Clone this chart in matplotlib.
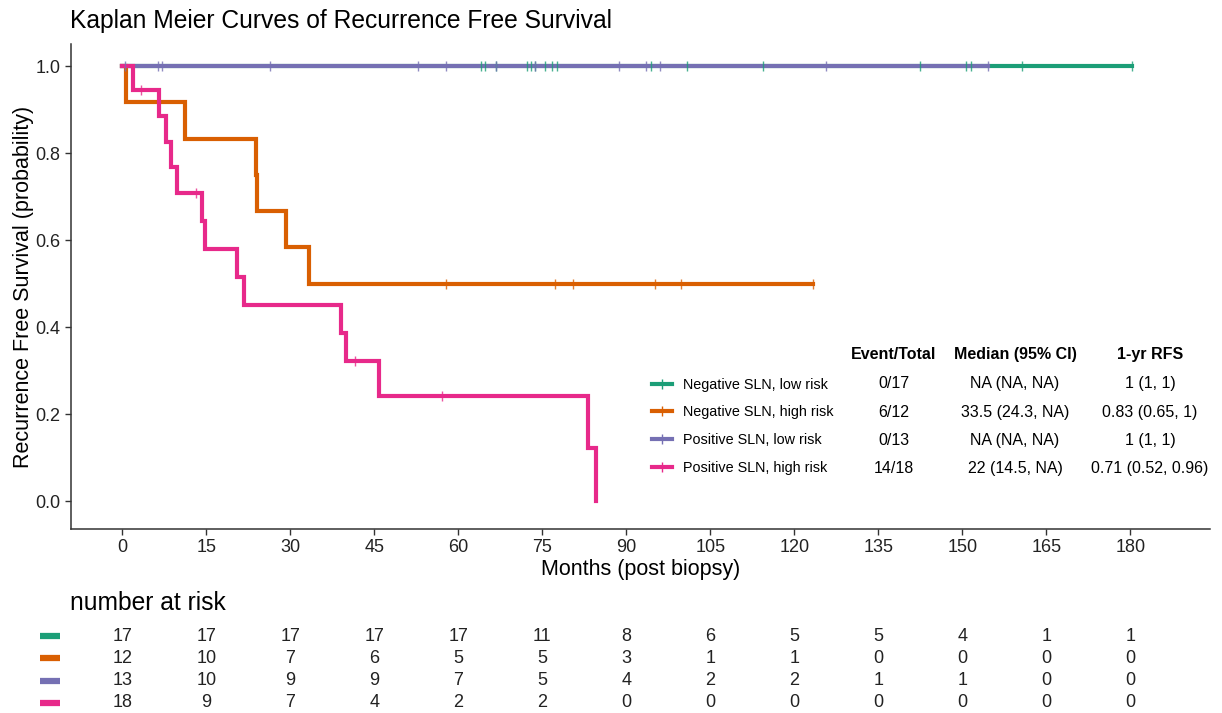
import matplotlib
matplotlib.use("Agg")
import matplotlib.pyplot as plt
from matplotlib.lines import Line2D

plt.rcParams["font.family"] = ["Liberation Sans", "DejaVu Sans"]

# strata, in drawing order
groups = ["Negative SLN, low risk", "Negative SLN, high risk",
          "Positive SLN, low risk", "Positive SLN, high risk"]
colors = ["#1B9E77", "#D95F02", "#7570B3", "#E7298A"]

# step curves (time in months, survival level after the step)
neg_low_t = [0, 180.3]
neg_low_s = [1.0, 1.0]
neg_high_t = [0, 0.6, 11.1, 23.8, 24.1, 29.3, 33.4, 123.3]
neg_high_s = [1.0, 0.917, 0.833, 0.75, 0.667, 0.583, 0.5, 0.5]
pos_low_t = [0, 154.6]
pos_low_s = [1.0, 1.0]
pos_high_t = [0, 1.9, 6.5, 7.8, 8.6, 9.8, 14.3, 14.8, 20.5, 21.8, 39.0, 39.9,
              45.8, 83.2, 84.6]
pos_high_s = [1.0, 0.944, 0.885, 0.826, 0.767, 0.708, 0.644, 0.579, 0.515,
              0.450, 0.386, 0.322, 0.241, 0.121, 0.0]

# censoring marks
neg_low_cens_t = [64.1, 64.8, 66.7, 72.3, 72.9, 73.6, 75.4, 76.7, 77.6, 94.3,
                  100.9, 114.3, 142.4, 150.6, 151.5, 160.7, 180.3]
neg_low_cens_s = [1.0] * len(neg_low_cens_t)
neg_high_cens_t = [57.7, 77.2, 80.4, 95.1, 99.8, 123.3]
neg_high_cens_s = [0.5] * len(neg_high_cens_t)
pos_low_cens_t = [0.5, 6.4, 7.0, 26.4, 52.7, 57.7, 66.7, 73.6, 88.7, 93.5,
                  96.0, 125.6, 154.6]
pos_low_cens_s = [1.0] * len(pos_low_cens_t)
pos_high_cens_t = [3.3, 13.2, 41.6, 57.1]
pos_high_cens_s = [0.944, 0.708, 0.322, 0.241]

curves = [
    (neg_low_t, neg_low_s, neg_low_cens_t, neg_low_cens_s),
    (neg_high_t, neg_high_s, neg_high_cens_t, neg_high_cens_s),
    (pos_low_t, pos_low_s, pos_low_cens_t, pos_low_cens_s),
    (pos_high_t, pos_high_s, pos_high_cens_t, pos_high_cens_s),
]

# summary table
event_total = ["0/17", "6/12", "0/13", "14/18"]
median_ci = ["NA (NA, NA)", "33.5 (24.3, NA)", "NA (NA, NA)", "22 (14.5, NA)"]
rfs_1yr = ["1 (1, 1)", "0.83 (0.65, 1)", "1 (1, 1)", "0.71 (0.52, 0.96)"]

# number at risk
risk_times = [0, 15, 30, 45, 60, 75, 90, 105, 120, 135, 150, 165, 180]
risk_neg_low = [17, 17, 17, 17, 17, 11, 8, 6, 5, 5, 4, 1, 1]
risk_neg_high = [12, 10, 7, 6, 5, 5, 3, 1, 1, 0, 0, 0, 0]
risk_pos_low = [13, 10, 9, 9, 7, 5, 4, 2, 2, 1, 1, 0, 0]
risk_pos_high = [18, 9, 7, 4, 2, 2, 0, 0, 0, 0, 0, 0, 0]
risk_rows = [risk_neg_low, risk_neg_high, risk_pos_low, risk_pos_high]

W, H = 1222, 713
XLIM = (-9.23, 194.2)
fig = plt.figure(figsize=(W / 100, H / 100), dpi=100, facecolor="white")
ax = fig.add_axes([70.7 / W, 1 - 529 / H, (1210 - 70.7) / W, (529 - 44.25) / H])

for (t, s, ct, cs), col in zip(curves, colors):
    ax.step(t, s, where="post", color=col, lw=3, solid_joinstyle="miter")
for (t, s, ct, cs), col in zip(curves, colors):
    ax.plot(ct, cs, ls="none", marker="|", ms=7, mew=1, color=col, alpha=0.8)

ax.set_xlim(*XLIM)
ax.set_ylim(-0.064, 1.05)
ax.set_xticks(risk_times)
ax.set_yticks([0, 0.2, 0.4, 0.6, 0.8, 1.0])
ax.set_yticklabels([f"{v:.1f}" for v in [0, 0.2, 0.4, 0.6, 0.8, 1.0]])
ax.tick_params(labelsize=13, length=4, width=1, color="#333333", labelcolor="#222222")
for side in ["top", "right"]:
    ax.spines[side].set_visible(False)
for side in ["left", "bottom"]:
    ax.spines[side].set_color("#333333")
    ax.spines[side].set_linewidth(1.1)
ax.set_xlabel("Months (post biopsy)", fontsize=15.5, labelpad=2)
ax.set_ylabel("Recurrence Free Survival (probability)", fontsize=15.5, labelpad=1)

fig.text(70 / W, 1 - 21 / H, "Kaplan Meier Curves of Recurrence Free Survival",
         fontsize=17.7, ha="left", va="center")

# legend with summary columns
handles = [Line2D([0], [0], color=c, lw=3, marker="|", ms=7, mew=1) for c in colors]
ax.legend(handles, groups, loc="upper left", bbox_to_anchor=(0.5102, 0.312),
          frameon=False, fontsize=10.4, handlelength=1.4, handletextpad=0.75,
          labelspacing=0.95, borderpad=0, borderaxespad=0)

col_x = [137.7, 159.4, 183.5]
header_y = (501 - 354) / 435
for x, head in zip(col_x, ["Event/Total", "Median (95% CI)", "1-yr RFS"]):
    ax.text(x, header_y, head, ha="center", va="center", fontsize=11.5, fontweight="bold")
row_px = [383, 412, 440, 468]
for i in range(4):
    y = (501 - row_px[i]) / 435
    ax.text(col_x[0], y, event_total[i], ha="center", va="center", fontsize=11.5)
    ax.text(col_x[1], y, median_ci[i], ha="center", va="center", fontsize=11.5)
    ax.text(col_x[2], y, rfs_1yr[i], ha="center", va="center", fontsize=11.5)

# number at risk table
fig.text(70 / W, 1 - 603 / H, "number at risk", fontsize=17.7, ha="left", va="center")
rax = fig.add_axes([70.7 / W, 0, (1210 - 70.7) / W, 88 / H])
rax.set_xlim(*XLIM)
rax.set_ylim(-0.45, 3.5)
for i, row in enumerate(risk_rows):
    yrow = 3 - i
    for t, n in zip(risk_times, row):
        rax.text(t, yrow, str(n), ha="center", va="center", fontsize=13, color="#222222")
for side in ["top", "right", "bottom", "left"]:
    rax.spines[side].set_visible(False)
rax.spines["left"].set_position(("outward", 8))
rax.set_xticks([])
rax.set_yticks([3, 2, 1, 0])
rax.set_yticklabels([])
rax.tick_params(axis="y", length=14.4, width=4.5, direction="out")
for tick, col in zip(rax.yaxis.get_major_ticks(), colors):
    tick.tick1line.set_markeredgecolor(col)
rax.patch.set_alpha(0)

fig.savefig("out.png", dpi=100, facecolor="white")
